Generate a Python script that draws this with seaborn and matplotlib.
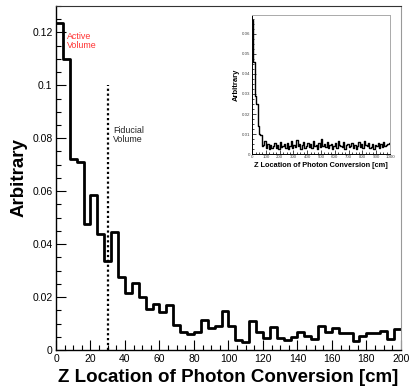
import numpy as np
import pandas as pd
import matplotlib
matplotlib.use("Agg")
import matplotlib.pyplot as plt
from matplotlib.ticker import MultipleLocator
import seaborn as sns

# main histogram: 4 cm bins from 0 to 200 cm
bin_width = 4
main_values = [
    0.1235, 0.1100, 0.0720, 0.0709, 0.0475, 0.0586, 0.0438, 0.0337, 0.0445, 0.0275,
    0.0215, 0.0252, 0.0201, 0.0156, 0.0174, 0.0143, 0.0169, 0.0096, 0.0067, 0.0060,
    0.0067, 0.0114, 0.0082, 0.0090, 0.0148, 0.0090, 0.0038, 0.0031, 0.0110, 0.0069,
    0.0044, 0.0088, 0.0044, 0.0038, 0.0050, 0.0069, 0.0052, 0.0040, 0.0090, 0.0069,
    0.0085, 0.0065, 0.0065, 0.0035, 0.0052, 0.0065, 0.0065, 0.0072, 0.0040, 0.0079,
]

# inset: 10 cm bins from 0 to 1000 cm
inset_bin_width = 10
inset_values = [
    0.067, 0.046, 0.029, 0.025, 0.014, 0.010, 0.0095, 0.004, 0.0045, 0.0065,
    0.003, 0.005, 0.0025, 0.0045, 0.003, 0.004, 0.0055, 0.003, 0.0045, 0.0025,
    0.006, 0.0035, 0.004, 0.005, 0.003, 0.0055, 0.0025, 0.004, 0.0065, 0.003,
    0.0045, 0.0035, 0.007, 0.004, 0.005, 0.0025, 0.0045, 0.006, 0.003, 0.004,
    0.0055, 0.0035, 0.005, 0.003, 0.0065, 0.004, 0.0045, 0.0025, 0.0055, 0.0035,
    0.0075, 0.004, 0.005, 0.0035, 0.006, 0.003, 0.0045, 0.005, 0.0025, 0.004,
    0.0055, 0.003, 0.0065, 0.0045, 0.004, 0.0035, 0.006, 0.0025, 0.0045, 0.005,
    0.0035, 0.004, 0.0055, 0.003, 0.0045, 0.0025, 0.004, 0.006, 0.0035, 0.005,
    0.003, 0.0065, 0.0045, 0.004, 0.0055, 0.003, 0.0035, 0.005, 0.0025, 0.0045,
    0.004, 0.0055, 0.003, 0.005, 0.0035, 0.006, 0.004, 0.0045, 0.005, 0.0055,
]

fiducial_cut = 30
fiducial_top = 0.1

sns.set_style("ticks")
plt.rcParams["font.family"] = ["Liberation Sans", "DejaVu Sans"]
plt.rcParams["text.color"] = "black"
plt.rcParams["axes.labelcolor"] = "black"
plt.rcParams["xtick.color"] = "black"
plt.rcParams["ytick.color"] = "black"

df_main = pd.DataFrame({
    "z": np.arange(len(main_values)) * bin_width + bin_width / 2,
    "w": main_values,
})
df_inset = pd.DataFrame({
    "z": np.arange(len(inset_values)) * inset_bin_width + inset_bin_width / 2,
    "w": inset_values,
})

fig = plt.figure(figsize=(4.18, 3.92), dpi=100)
ax = fig.add_axes([0.134, 0.107, 0.825, 0.878])

sns.histplot(data=df_main, x="z", weights="w", bins=len(main_values),
             binrange=(0, len(main_values) * bin_width), element="step",
             fill=False, color="black", linewidth=2, ax=ax)

ax.plot([fiducial_cut, fiducial_cut], [0, fiducial_top], color="black",
        linestyle=(0, (1, 1.2)), linewidth=1.6)

ax.text(6.5, 0.1200, "Active\nVolume", color="#ff3030", fontsize=6.4,
        va="top", ha="left", linespacing=1.0)
ax.text(33, 0.0845, "Fiducial\nVolume", color="#222222", fontsize=6.4,
        va="top", ha="left", linespacing=1.0)

ax.set_xlim(0, 200)
ax.set_ylim(0, 0.13)
ax.xaxis.set_major_locator(MultipleLocator(20))
ax.xaxis.set_minor_locator(MultipleLocator(5))
ax.yaxis.set_minor_locator(MultipleLocator(0.005))
ax.set_yticks([0, 0.02, 0.04, 0.06, 0.08, 0.1, 0.12])
ax.set_yticklabels(["0", "0.02", "0.04", "0.06", "0.08", "0.1", "0.12"])
ax.tick_params(which="both", direction="in", labelsize=7.5, pad=2.5,
               top=False, right=False, colors="black")
ax.tick_params(which="major", length=7, width=0.8)
ax.tick_params(which="minor", length=3.5, width=0.8)
ax.set_xlabel("Z Location of Photon Conversion [cm]", fontsize=13.5,
              fontweight="bold", labelpad=4, color="black")
ax.set_ylabel("Arbitrary", fontsize=13.5, fontweight="bold", labelpad=3,
              color="black")
for side in ["left", "bottom"]:
    ax.spines[side].set_color("black")
    ax.spines[side].set_linewidth(1.0)
ax.spines["top"].set_color("#333333")
ax.spines["right"].set_color("#999999")

# inset plot
axi = fig.add_axes([0.603, 0.607, 0.330, 0.355])
sns.histplot(data=df_inset, x="z", weights="w", bins=len(inset_values),
             binrange=(0, len(inset_values) * inset_bin_width), element="step",
             fill=False, color="black", linewidth=1.0, ax=axi)
axi.set_xlim(0, 1000)
axi.set_ylim(0, 0.0695)
axi.xaxis.set_major_locator(MultipleLocator(100))
axi.xaxis.set_minor_locator(MultipleLocator(25))
axi.set_yticks([0, 0.01, 0.02, 0.03, 0.04, 0.05, 0.06])
axi.set_yticklabels(["0", "0.01", "0.02", "0.03", "0.04", "0.05", "0.06"])
axi.yaxis.set_minor_locator(MultipleLocator(0.0025))
axi.tick_params(which="both", direction="in", labelsize=3.2, pad=1,
                top=False, right=False, colors="black", labelcolor="#444444")
axi.tick_params(which="major", length=3, width=0.5)
axi.tick_params(which="minor", length=1.5, width=0.5)
axi.set_xlabel("Z Location of Photon Conversion [cm]", fontsize=5.3,
               fontweight="bold", labelpad=2, color="black")
axi.set_ylabel("Arbitrary", fontsize=5.5, fontweight="bold", labelpad=2,
               color="black")
for side in ["left", "bottom"]:
    axi.spines[side].set_color("black")
    axi.spines[side].set_linewidth(0.7)
for side in ["top", "right"]:
    axi.spines[side].set_color("#aaaaaa")
    axi.spines[side].set_linewidth(0.7)

fig.savefig("out.png", dpi=100)
